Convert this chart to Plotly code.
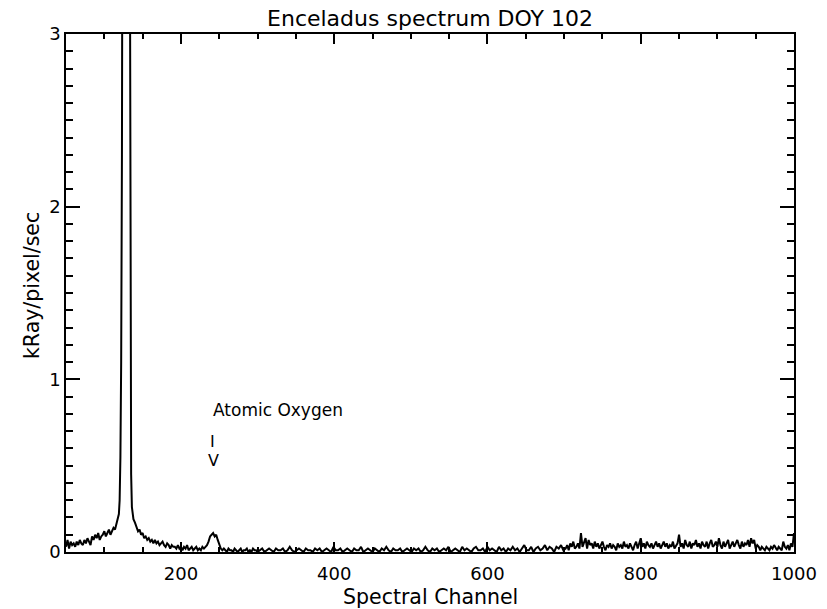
import numpy as np
import plotly.graph_objects as go

# ---- data ----
# Segment A: left wing, channels 50..118 step 2
chan_a = list(range(50, 119, 2))
val_a = [0.03, 0.07, 0.02, 0.06, 0.04, 0.05, 0.03, 0.06, 0.04, 0.07,
         0.05, 0.04, 0.07, 0.05, 0.08, 0.06, 0.04, 0.09, 0.07, 0.10,
         0.08, 0.11, 0.07, 0.09, 0.10, 0.12, 0.09, 0.11, 0.13, 0.10,
         0.12, 0.14, 0.13, 0.16, 0.19]

# Segment B: bright line (clipped at top of the plot), channels 119..138
chan_b = list(range(119, 139))
val_b = [0.22, 0.30, 0.55, 1.1, 2.3, 4.8, 8.0, 11.0, 12.5, 12.8,
         12.0, 10.5, 8.5, 6.5, 4.3, 1.5, 0.45, 0.26, 0.20, 0.19]

# Segment C: tail and atomic oxygen feature, channels 140..300 step 2
chan_c = list(range(140, 301, 2))
val_c = [0.17, 0.14, 0.12, 0.13, 0.10, 0.11,
         0.08, 0.09, 0.07, 0.08, 0.06, 0.07, 0.05, 0.07, 0.05, 0.06,
         0.04, 0.05, 0.06, 0.04, 0.03, 0.05, 0.04, 0.02, 0.04, 0.03,
         0.03, 0.02, 0.04, 0.02, 0.03, 0.01, 0.03, 0.02, 0.04, 0.01,
         0.02, 0.03, 0.01, 0.02, 0.03, 0.01, 0.02, 0.01, 0.03, 0.02,
         0.03, 0.04, 0.06, 0.09, 0.10, 0.11, 0.09, 0.10, 0.07, 0.04,
         0.02, 0.01, 0.02,
         0.01, 0.00, 0.02, 0.01, 0.01, 0.00, 0.02, 0.01, 0.00, 0.01,
         0.02, 0.00, 0.01, 0.01, 0.02, 0.00, 0.01, 0.00, 0.02, 0.01,
         0.01, 0.00]

# Segment D: quiet region, channels 303..699 step 3
chan_d = list(range(303, 700, 3))
val_d = [0.01, 0.02, 0.00, 0.01, 0.02, 0.01, 0.00, 0.02, 0.01, 0.01,
         0.02, 0.00, 0.01, 0.03, 0.01, 0.00, 0.01, 0.02, 0.01, 0.00,
         0.02, 0.01, 0.01, 0.00, 0.02, 0.01, 0.02, 0.00, 0.01, 0.02,
         0.01, 0.00, 0.03, 0.01, 0.01, 0.02, 0.00, 0.01, 0.02, 0.01,
         0.00, 0.02, 0.01, 0.01, 0.03, 0.00, 0.01, 0.02, 0.01, 0.00,
         0.02, 0.01, 0.00, 0.02, 0.01, 0.03, 0.01, 0.00, 0.02, 0.01,
         0.01, 0.02, 0.00, 0.01, 0.02, 0.01, 0.00, 0.02, 0.01, 0.02,
         0.00, 0.01, 0.03, 0.01, 0.00, 0.02, 0.01, 0.02, 0.00, 0.01,
         0.02, 0.01, 0.03, 0.00, 0.01, 0.02, 0.01, 0.00, 0.03, 0.01,
         0.02, 0.01, 0.00, 0.02, 0.03, 0.01, 0.01, 0.02, 0.00, 0.03,
         0.01, 0.02, 0.01, 0.00, 0.03, 0.01, 0.02, 0.00, 0.02, 0.01,
         0.03, 0.01, 0.02, 0.00, 0.02, 0.04, 0.01, 0.01, 0.03, 0.00,
         0.02, 0.03, 0.01, 0.02, 0.04, 0.01, 0.03, 0.02, 0.00, 0.03,
         0.02, 0.04, 0.01]

# Segment E: noisier red end, channels 702..1000 step 2
chan_e = list(range(702, 1001, 2))
val_e = [0.02, 0.04, 0.01, 0.05, 0.03, 0.06, 0.02, 0.03, 0.05, 0.02,
         0.11, 0.03, 0.06, 0.08, 0.02, 0.07, 0.04, 0.05, 0.02, 0.06,
         0.03, 0.05, 0.02, 0.04, 0.06, 0.03, 0.01, 0.04, 0.03, 0.05,
         0.02, 0.04, 0.03, 0.01, 0.05, 0.03, 0.04, 0.02, 0.06, 0.03,
         0.04, 0.02, 0.05, 0.03, 0.01, 0.04, 0.06, 0.02, 0.05, 0.08,
         0.03, 0.05, 0.02, 0.06, 0.04, 0.03, 0.05, 0.02, 0.04, 0.06,
         0.03, 0.05, 0.02, 0.04, 0.06, 0.03, 0.05, 0.02, 0.04, 0.03,
         0.06, 0.02, 0.04, 0.05, 0.10, 0.03, 0.05, 0.02, 0.07, 0.04,
         0.03, 0.06, 0.02, 0.05, 0.04, 0.07, 0.03, 0.05, 0.02, 0.06,
         0.04, 0.03, 0.06, 0.02, 0.05, 0.07, 0.03, 0.04, 0.06, 0.03,
         0.08, 0.04, 0.02, 0.06, 0.03, 0.05, 0.07, 0.02, 0.04, 0.06,
         0.03, 0.05, 0.07, 0.04, 0.02, 0.06, 0.03, 0.05, 0.04, 0.07,
         0.03, 0.08, 0.05, 0.07, 0.02, 0.04, 0.03, 0.01, 0.03, 0.02,
         0.01, 0.03, 0.02, 0.01, 0.03, 0.02, 0.04, 0.02, 0.01, 0.03,
         0.02, 0.01, 0.06, 0.03, 0.02, 0.04, 0.01, 0.05, 0.03, 0.11]

x_tick_vals = [200, 400, 600, 800, 1000]
y_tick_vals = [0, 1, 2, 3]

title_text = "Enceladus spectrum DOY 102"
x_title = "Spectral Channel"
y_title = "kRay/pixel/sec"
feature_label = "Atomic Oxygen"
feature_channel = 241

channels = chan_a + chan_b + chan_c + chan_d + chan_e
values = val_a + val_b + val_c + val_d + val_e

FONT = "DejaVu Sans"

fig = go.Figure()
fig.add_trace(go.Scatter(x=channels, y=values, mode="lines",
                         line=dict(color="black", width=2),
                         showlegend=False, hoverinfo="skip"))

fig.add_annotation(x=feature_channel - 2, y=0.82, text=feature_label,
                   showarrow=False, xanchor="left", yanchor="middle",
                   font=dict(family=FONT, size=17, color="black"))
fig.add_annotation(x=feature_channel, y=0.64, text="I",
                   showarrow=False, xanchor="center", yanchor="middle",
                   font=dict(family=FONT, size=16, color="black"))
fig.add_annotation(x=feature_channel + 1, y=0.53, text="V",
                   showarrow=False, xanchor="center", yanchor="middle",
                   font=dict(family=FONT, size=16, color="black"))

# axis titles placed in paper coordinates
fig.add_annotation(xref="paper", yref="paper", x=0.5, y=-0.087,
                   text=x_title, showarrow=False,
                   xanchor="center", yanchor="middle",
                   font=dict(family=FONT, size=20.5, color="black"))
fig.add_annotation(xref="paper", yref="paper", x=-0.047, y=0.515,
                   text=y_title, showarrow=False, textangle=-90,
                   xanchor="center", yanchor="middle",
                   font=dict(family=FONT, size=20.5, color="black"))

axis_common = dict(showline=True, linecolor="black", linewidth=1.5,
                   mirror="allticks", ticks="inside", tickcolor="black",
                   tickwidth=1.5, showgrid=False, zeroline=False,
                   automargin=False,
                   tickfont=dict(family=FONT, size=18, color="black"))

fig.update_xaxes(range=[50, 1000], tickvals=x_tick_vals, ticklen=10,
                 ticklabelstandoff=5,
                 minor=dict(ticks="inside", dtick=50, tick0=0, ticklen=5,
                            tickwidth=1.5, tickcolor="black", showgrid=False),
                 **axis_common)
fig.update_yaxes(range=[0, 3], tickvals=y_tick_vals, ticklen=14,
                 minor=dict(ticks="inside", dtick=0.1, tick0=0, ticklen=7,
                            tickwidth=1.5, tickcolor="black", showgrid=False),
                 **axis_common)

fig.update_layout(
    width=827, height=609,
    margin=dict(l=66, r=33, t=34, b=57),
    paper_bgcolor="white", plot_bgcolor="white",
    title=dict(text=title_text, x=0.52, xanchor="center", y=0.97,
               yanchor="middle",
               font=dict(family=FONT, size=22, color="black")),
)

fig.write_html("out.html")
